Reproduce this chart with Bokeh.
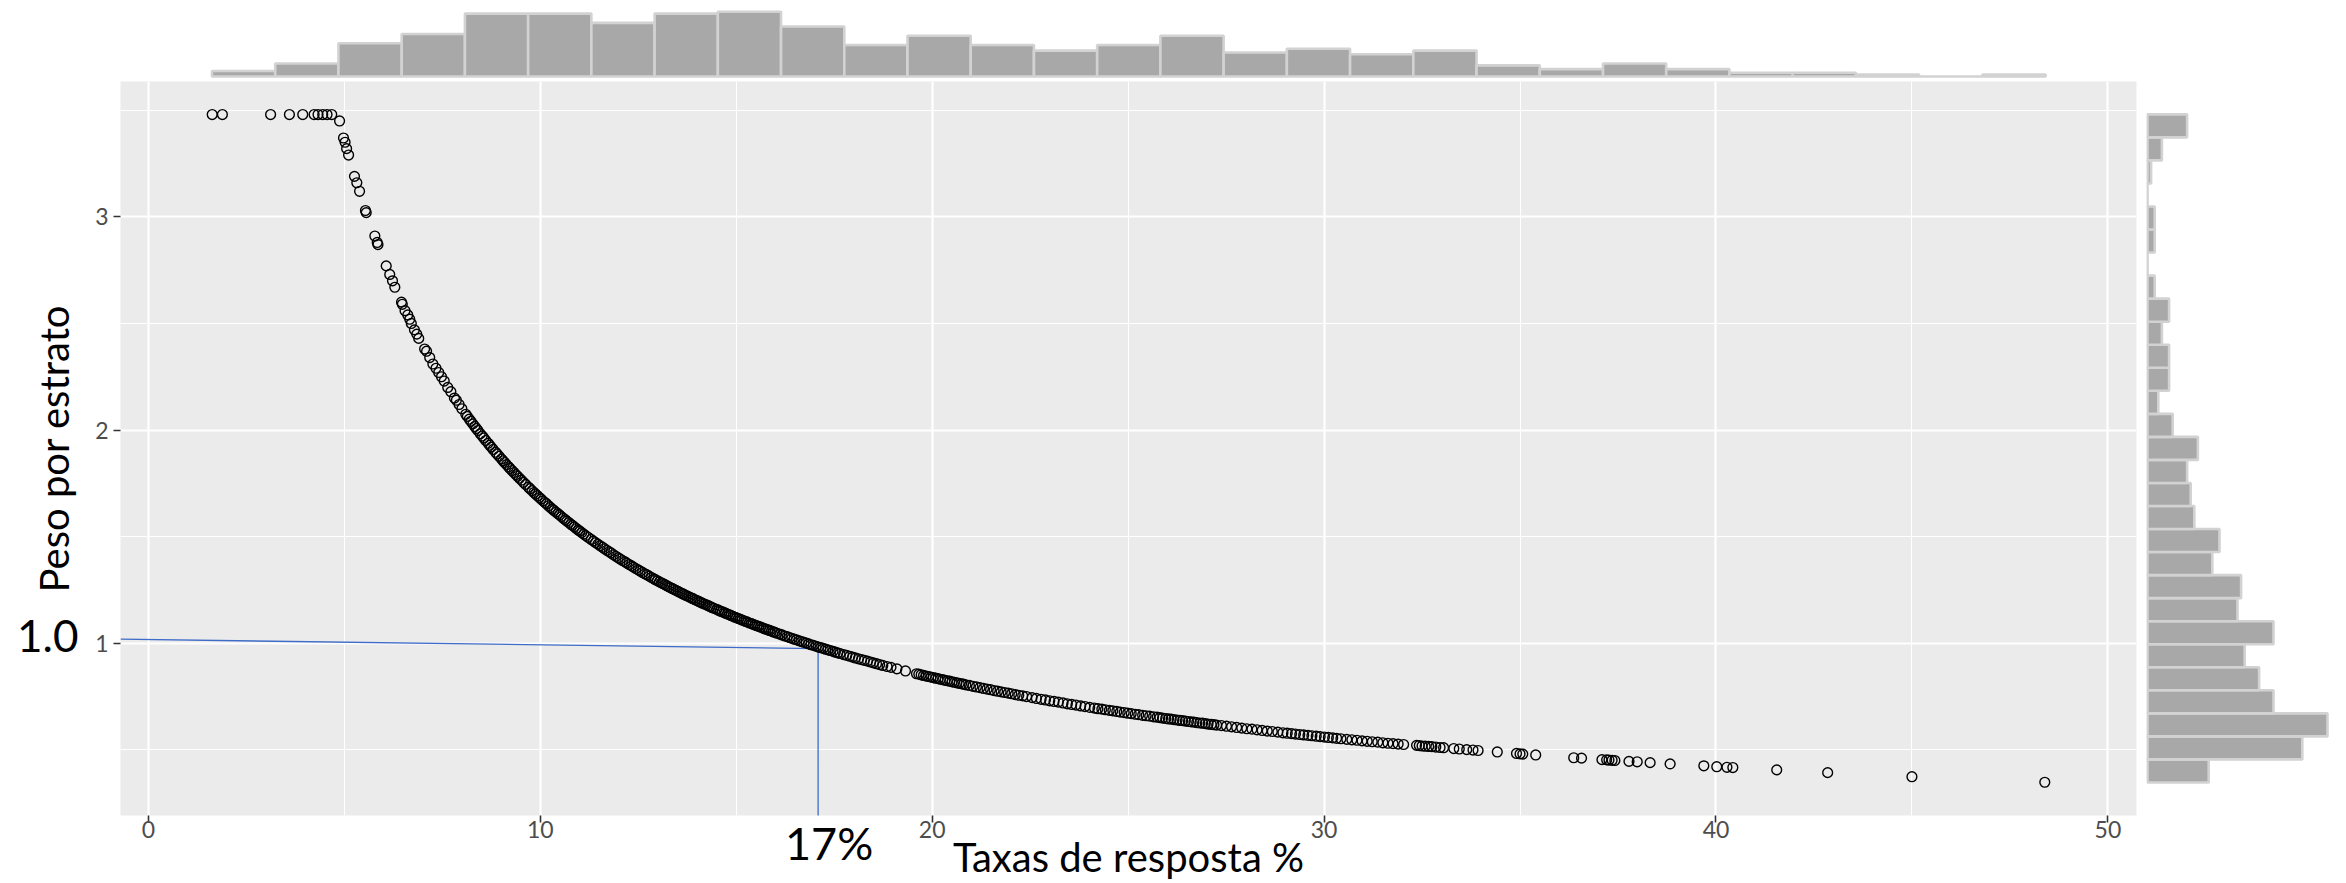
import numpy as np
from bokeh.plotting import figure
from bokeh.layouts import column, row
from bokeh.models import Range1d, FixedTicker, LinearAxis, CustomJSTickFormatter
from bokeh.embed import file_html
from bokeh.resources import INLINE

# ---------------- data ----------------
taxa = [
    1.63, 1.89, 3.12, 3.60, 3.94, 4.23, 4.33, 4.45, 4.56, 4.68,
    4.88, 4.98, 5.02, 5.06, 5.11, 5.26, 5.32, 5.39, 5.54, 5.56, 5.78, 5.84, 5.86, 6.07, 6.16, 6.23, 6.29,
    6.46, 6.48, 6.55, 6.62, 6.67, 6.71, 6.79, 6.85, 6.90, 7.05, 7.10, 7.18, 7.26, 7.34, 7.41, 7.48, 7.55, 7.64, 7.72, 7.81, 7.86, 7.93, 8.00,
    8.10, 8.14, 8.19, 8.23, 8.28, 8.33, 8.37, 8.41, 8.47, 8.52, 8.56, 8.61, 8.67, 8.71, 8.75, 8.80, 8.86, 8.90, 8.95, 9.01, 9.05, 9.09, 9.14, 9.19, 9.23, 9.28, 9.33, 9.38, 9.42, 9.47, 9.52, 9.57, 9.63,
    9.70, 9.74, 9.79, 9.84, 9.88, 9.93, 9.98, 10.02, 10.07, 10.12, 10.16, 10.21, 10.26, 10.31, 10.35, 10.40, 10.45, 10.49, 10.54, 10.59, 10.64, 10.68, 10.73, 10.78, 10.82, 10.87, 10.92, 10.97, 11.01, 11.06, 11.11, 11.16, 11.22,
    11.30, 11.36, 11.41, 11.47, 11.53, 11.59, 11.64, 11.70, 11.76, 11.81, 11.87, 11.93, 11.99, 12.04, 12.10, 12.16, 12.21, 12.27, 12.33, 12.38, 12.44, 12.50, 12.55, 12.61, 12.67, 12.72, 12.78, 12.84,
    12.90, 12.94, 12.99, 13.04, 13.09, 13.13, 13.18, 13.23, 13.28, 13.33, 13.38, 13.42, 13.47, 13.52, 13.57, 13.62, 13.66, 13.71, 13.76, 13.81, 13.86, 13.90, 13.95, 14.00, 14.05, 14.09, 14.14, 14.19, 14.24, 14.29, 14.33, 14.38, 14.43,
    14.50, 14.55, 14.59, 14.64, 14.69, 14.73, 14.78, 14.83, 14.87, 14.92, 14.97, 15.01, 15.06, 15.11, 15.15, 15.20, 15.25, 15.29, 15.34, 15.39, 15.43, 15.48, 15.53, 15.57, 15.62, 15.67, 15.71, 15.76, 15.81, 15.85, 15.90, 15.95, 15.99, 16.04,
    16.11, 16.17, 16.24, 16.30, 16.36, 16.42, 16.48, 16.54, 16.61, 16.67, 16.73, 16.79, 16.85, 16.91, 16.97, 17.04, 17.10, 17.16, 17.22, 17.28, 17.34, 17.40, 17.47, 17.53, 17.59, 17.65,
    17.74, 17.82, 17.90, 17.97, 18.04, 18.12, 18.20, 18.27, 18.35, 18.43, 18.50, 18.58, 18.66, 18.74, 18.85, 18.95, 19.10, 19.32,
    19.60, 19.66, 19.72, 19.78, 19.85, 19.91, 19.97, 20.03, 20.09, 20.15, 20.21, 20.27, 20.33, 20.39, 20.45, 20.51, 20.57, 20.63, 20.69, 20.75, 20.80, 20.86,
    20.95, 21.04, 21.13, 21.22, 21.31, 21.40, 21.49, 21.58, 21.67, 21.76, 21.85, 21.94, 22.03, 22.12, 22.21, 22.31, 22.41,
    22.55, 22.66, 22.78, 22.89, 23.00, 23.11, 23.22, 23.34, 23.45, 23.56, 23.67, 23.79, 23.90, 24.02,
    24.14, 24.23, 24.33, 24.42, 24.52, 24.61, 24.71, 24.80, 24.90, 24.99, 25.08, 25.18, 25.27, 25.37, 25.46, 25.55, 25.65,
    25.74, 25.81, 25.88, 25.96, 26.03, 26.10, 26.17, 26.25, 26.32, 26.39, 26.46, 26.54, 26.61, 26.68, 26.75, 26.83, 26.90, 26.97, 27.04, 27.12, 27.19, 27.26,
    27.38, 27.51, 27.64, 27.77, 27.90, 28.03, 28.16, 28.29, 28.42, 28.55, 28.68, 28.82,
    28.95, 29.06, 29.17, 29.27, 29.38, 29.48, 29.59, 29.69, 29.80, 29.90, 30.01, 30.11, 30.22, 30.32, 30.43,
    30.58, 30.71, 30.84, 30.97, 31.10, 31.23, 31.37, 31.50, 31.63, 31.76, 31.89, 32.03,
    32.36, 32.43, 32.50, 32.58, 32.67, 32.75, 32.85, 32.96, 33.05, 33.31, 33.45, 33.64, 33.80,
    33.93, 34.42, 34.91, 35.00, 35.07, 35.40,
    36.37, 36.57, 37.09,
    37.21, 37.27, 37.35, 37.42, 37.78, 37.99, 38.32,
    38.83, 39.69, 40.02, 40.28,
    40.43, 41.55,
    42.85,
    45.00,
    48.39,
]

peso = [
    3.48, 3.48, 3.48, 3.48, 3.48, 3.48, 3.48, 3.48, 3.48, 3.48,
    3.45, 3.37, 3.35, 3.32, 3.29, 3.19, 3.16, 3.12, 3.03, 3.02, 2.91, 2.88, 2.87, 2.77, 2.73, 2.70, 2.67,
    2.60, 2.59, 2.56, 2.54, 2.52, 2.50, 2.47, 2.45, 2.43, 2.38, 2.37, 2.34, 2.31, 2.29, 2.27, 2.25, 2.23, 2.20, 2.18, 2.15, 2.14, 2.12, 2.10,
    2.074, 2.064, 2.051, 2.041, 2.029, 2.017, 2.007, 1.998, 1.983, 1.972, 1.963, 1.951, 1.938, 1.929, 1.920, 1.909, 1.896, 1.888, 1.877, 1.865, 1.856, 1.848, 1.838, 1.828, 1.820, 1.810, 1.801, 1.791, 1.783, 1.774, 1.765, 1.755, 1.745,
    1.732, 1.725, 1.716, 1.707, 1.700, 1.692, 1.683, 1.677, 1.668, 1.660, 1.654, 1.645, 1.637, 1.629, 1.623, 1.615, 1.608, 1.602, 1.594, 1.586, 1.579, 1.573, 1.566, 1.558, 1.553, 1.546, 1.538, 1.531, 1.526, 1.519, 1.512, 1.505, 1.497,
    1.487, 1.479, 1.472, 1.465, 1.457, 1.450, 1.443, 1.436, 1.429, 1.423, 1.415, 1.408, 1.401, 1.395, 1.388, 1.382, 1.376, 1.369, 1.363, 1.357, 1.350, 1.344, 1.339, 1.332, 1.326, 1.321, 1.315, 1.308,
    1.302, 1.298, 1.293, 1.288, 1.283, 1.280, 1.275, 1.270, 1.265, 1.260, 1.256, 1.252, 1.247, 1.243, 1.238, 1.233, 1.230, 1.225, 1.221, 1.217, 1.212, 1.209, 1.204, 1.200, 1.196, 1.192, 1.188, 1.184, 1.180, 1.176, 1.172, 1.168, 1.164,
    1.159, 1.155, 1.151, 1.148, 1.144, 1.141, 1.137, 1.133, 1.130, 1.126, 1.122, 1.119, 1.116, 1.112, 1.109, 1.105, 1.102, 1.099, 1.095, 1.092, 1.089, 1.085, 1.082, 1.079, 1.076, 1.072, 1.069, 1.066, 1.063, 1.060, 1.057, 1.053, 1.051, 1.047,
    1.043, 1.039, 1.034, 1.031, 1.027, 1.023, 1.019, 1.016, 1.011, 1.008, 1.004, 1.001, 0.997, 0.993, 0.990, 0.986, 0.982, 0.979, 0.976, 0.972, 0.969, 0.966, 0.962, 0.958, 0.955, 0.952,
    0.947, 0.943, 0.939, 0.935, 0.931, 0.927, 0.923, 0.920, 0.916, 0.912, 0.908, 0.904, 0.900, 0.896, 0.891, 0.887, 0.880, 0.870,
    0.857, 0.855, 0.852, 0.849, 0.846, 0.844, 0.841, 0.839, 0.836, 0.834, 0.831, 0.829, 0.826, 0.824, 0.822, 0.819, 0.817, 0.814, 0.812, 0.810, 0.808, 0.805,
    0.802, 0.798, 0.795, 0.792, 0.788, 0.785, 0.782, 0.778, 0.775, 0.772, 0.769, 0.766, 0.763, 0.759, 0.756, 0.753, 0.750,
    0.745, 0.741, 0.737, 0.734, 0.730, 0.727, 0.724, 0.720, 0.716, 0.713, 0.710, 0.706, 0.703, 0.699,
    0.696, 0.693, 0.691, 0.688, 0.685, 0.683, 0.680, 0.677, 0.675, 0.672, 0.670, 0.667, 0.665, 0.662, 0.660, 0.658, 0.655,
    0.653, 0.651, 0.649, 0.647, 0.645, 0.644, 0.642, 0.640, 0.638, 0.637, 0.635, 0.633, 0.631, 0.630, 0.628, 0.626, 0.625, 0.623, 0.621, 0.619, 0.618, 0.616,
    0.614, 0.611, 0.608, 0.605, 0.602, 0.599, 0.597, 0.594, 0.591, 0.588, 0.586, 0.583,
    0.580, 0.578, 0.576, 0.574, 0.572, 0.570, 0.568, 0.566, 0.564, 0.562, 0.560, 0.558, 0.556, 0.554, 0.552,
    0.549, 0.547, 0.545, 0.542, 0.540, 0.538, 0.536, 0.533, 0.531, 0.529, 0.527, 0.525,
    0.521, 0.520, 0.518, 0.517, 0.516, 0.515, 0.513, 0.511, 0.510, 0.506, 0.504, 0.501, 0.499,
    0.497, 0.490, 0.483, 0.481, 0.480, 0.476,
    0.463, 0.461, 0.454,
    0.453, 0.452, 0.451, 0.450, 0.446, 0.444, 0.440,
    0.434, 0.425, 0.421, 0.418,
    0.417, 0.406,
    0.393,
    0.374,
    0.348,
]

# marginal histograms (counts per bin)
top_hist_counts = [3, 7, 18, 23, 34, 34, 29, 34, 35, 27, 17, 22, 17, 14, 17,
                   22, 13, 15, 12, 14, 6, 4, 7, 4, 2, 2, 1, 0, 1]
top_hist_range = (1.625, 48.41)
right_hist_counts = [17, 43, 50, 35, 31, 27, 35, 25, 26, 18, 20, 13, 12, 11, 14,
                     7, 3, 6, 6, 4, 6, 2, 0, 2, 2, 0, 1, 4, 11]   # bottom -> top
right_hist_range = (0.347, 3.481)

# reference guide (17% -> weight 1.0)
guide_x = [-0.71, 17.09, 17.09]
guide_y = [1.019, 0.975, 0.19]

x_ticks = [0, 10, 20, 30, 40, 50]
x_minor = [5, 15, 25, 35, 45]
y_ticks = [1, 2, 3]
y_minor = [0.5, 1.5, 2.5, 3.5]

x_title = "Taxas de resposta %"
y_title = "Peso por estrato"
x_note, x_note_at = "17%", 17.37
y_note, y_note_at = "1.0", 1.035

# ---------------- styling ----------------
FONT = "Lato"
BAR_FILL = "#A8A8A8"
BAR_LINE = "#D2D2D2"

xr = Range1d(-0.71, 50.73)
yr = Range1d(0.192, 3.635)

main = figure(width=2140, height=802, x_range=xr, y_range=yr,
              output_backend="svg", toolbar_location=None,
              min_border_left=120, min_border_right=4,
              min_border_top=0, min_border_bottom=67)
main.background_fill_color = "#EBEBEB"
main.border_fill_color = "white"
main.outline_line_color = None

xa1 = main.xaxis[0]
ya1 = main.yaxis[0]
xt = FixedTicker(ticks=x_ticks, minor_ticks=x_minor)
yt = FixedTicker(ticks=y_ticks, minor_ticks=y_minor)
xa1.ticker = xt
ya1.ticker = yt
main.xgrid.ticker = xt
main.ygrid.ticker = yt
for g in (main.xgrid, main.ygrid):
    g.grid_line_color = "white"
    g.grid_line_width = 2.2
    g.minor_grid_line_color = "white"
    g.minor_grid_line_width = 1.1

for ax in (xa1, ya1):
    ax.axis_line_color = None
    ax.minor_tick_line_color = None
    ax.major_tick_line_color = "#333333"
    ax.major_tick_line_width = 1.6
    ax.major_tick_in = 0
    ax.major_tick_out = 7
    ax.major_label_text_font = FONT
    ax.major_label_text_font_size = "23px"
    ax.major_label_text_color = "#4D4D4D"
ya1.major_label_standoff = 5
xa1.major_label_standoff = -2

# outer axes that carry the big annotations and the titles
xa2 = LinearAxis(ticker=FixedTicker(ticks=[x_note_at]),
                 formatter=CustomJSTickFormatter(code="return '%s';" % x_note))
ya2 = LinearAxis(ticker=FixedTicker(ticks=[y_note_at]),
                 formatter=CustomJSTickFormatter(code="return '%s';" % y_note))
for ax in (xa2, ya2):
    ax.axis_line_color = None
    ax.major_tick_line_color = None
    ax.minor_tick_line_color = None
    ax.major_tick_in = 0
    ax.major_tick_out = 0
    ax.major_label_text_font = FONT
    ax.major_label_text_color = "black"
    ax.axis_label_text_font = FONT
    ax.axis_label_text_font_style = "normal"
    ax.axis_label_text_font_size = "40px"
    ax.axis_label_text_color = "black"
xa2.major_label_text_font_size = "45px"
xa2.major_label_standoff = -25
xa2.axis_label = x_title
xa2.axis_label_standoff = -40
ya2.major_label_text_font_size = "44px"
ya2.major_label_standoff = 14
ya2.axis_label = y_title
ya2.axis_label_standoff = -64
main.add_layout(xa2, "below")
main.add_layout(ya2, "left")

main.line(guide_x, guide_y, line_color="#3E6CC8", line_width=1.3)
main.scatter(taxa, peso, marker="circle", size=9.8, fill_color=None,
             line_color="black", line_width=1.4)

# top marginal histogram
top = figure(width=2140, height=81, x_range=xr, y_range=Range1d(-2.70, 41.08),
             output_backend="svg", toolbar_location=None,
             min_border_left=120, min_border_right=4,
             min_border_top=0, min_border_bottom=0,
             x_axis_location=None, y_axis_location=None)
top.outline_line_color = None
top.background_fill_color = "white"
top.grid.visible = False
te = np.linspace(top_hist_range[0], top_hist_range[1], len(top_hist_counts) + 1)
top.quad(left=te[:-1], right=te[1:], bottom=0, top=top_hist_counts,
         fill_color=BAR_FILL, line_color=BAR_LINE, line_width=2.6)

# right marginal histogram
right = figure(width=206, height=802, x_range=Range1d(-0.28, 55.28), y_range=yr,
               output_backend="svg", toolbar_location=None,
               min_border_left=6, min_border_right=0,
               min_border_top=0, min_border_bottom=67,
               x_axis_location=None, y_axis_location=None)
right.outline_line_color = None
right.background_fill_color = "white"
right.grid.visible = False
re_ = np.linspace(right_hist_range[0], right_hist_range[1], len(right_hist_counts) + 1)
right.quad(left=0, right=right_hist_counts, bottom=re_[:-1], top=re_[1:],
           fill_color=BAR_FILL, line_color=BAR_LINE, line_width=2.6)

layout = column(top, row(main, right))
open("out.html", "w").write(file_html(layout, INLINE, title="Peso por estrato"))
